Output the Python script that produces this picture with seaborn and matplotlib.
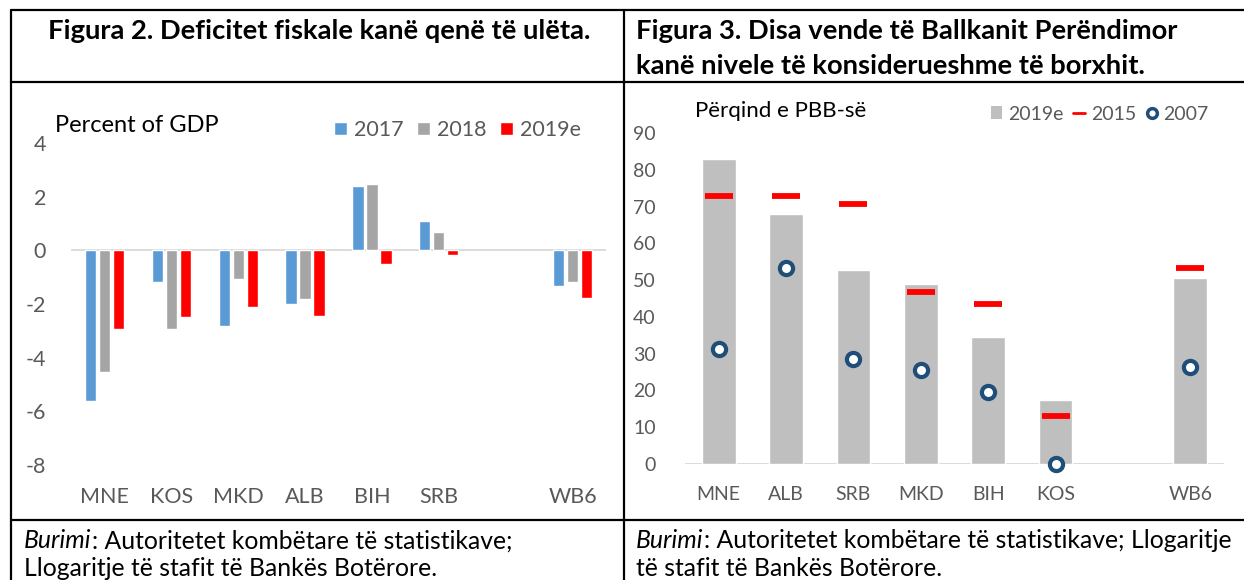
import matplotlib
matplotlib.use("Agg")
import matplotlib.pyplot as plt
from matplotlib.lines import Line2D
from matplotlib.patches import Patch
import seaborn as sns
import pandas as pd

# ---------------- data ----------------
left_countries = ["MNE", "KOS", "MKD", "ALB", "BIH", "SRB", "WB6"]
left_order = ["MNE", "KOS", "MKD", "ALB", "BIH", "SRB", " ", "WB6"]
years = ["2017", "2018", "2019e"]
def_2017 = [-5.6, -1.18, -2.82, -2.0, 2.39, 1.09, -1.33]
def_2018 = [-4.55, -2.92, -1.05, -1.8, 2.49, 0.67, -1.18]
def_2019 = [-2.95, -2.48, -2.1, -2.43, -0.52, -0.17, -1.77]

right_countries = ["MNE", "ALB", "SRB", "MKD", "BIH", "KOS", "WB6"]
right_order = ["MNE", "ALB", "SRB", "MKD", "BIH", "KOS", " ", "WB6"]
debt_2019 = [83.0, 68.0, 52.6, 48.8, 34.5, 17.3, 50.5]
debt_2015 = [72.8, 72.8, 70.6, 46.8, 43.5, 12.9, 53.3]
debt_2007 = [31.2, 53.2, 28.4, 25.6, 19.4, 0.0, 26.4]

left_yticks = [-8, -6, -4, -2, 0, 2, 4]
right_yticks = [0, 10, 20, 30, 40, 50, 60, 70, 80, 90]

title_left = "Figura 2. Deficitet fiskale kanë qenë të ulëta."
title_right_1 = "Figura 3. Disa vende të Ballkanit Perëndimor"
title_right_2 = "kanë nivele të konsiderueshme të borxhit."
src_left_1 = "Autoritetet kombëtare të statistikave;"
src_left_2 = "Llogaritje të stafit të Bankës Botërore."
src_right_1 = "Autoritetet kombëtare të statistikave; Llogaritje"
src_right_2 = "të stafit të Bankës Botërore."

# ---------------- style ----------------
sns.set_style("white")
FONT = "Lato"
plt.rcParams["font.family"] = [FONT, "DejaVu Sans"]
GRAY_TXT = "#595959"

W, H = 1244, 580
fig = plt.figure(figsize=(W / 100, H / 100), dpi=100)

def rect(x0, y0, x1, y1):
    return [x0 / W, 1 - y1 / H, (x1 - x0) / W, (y1 - y0) / H]

def fx(x):
    return x / W

def fy(y):
    return 1 - y / H

# ---------------- table frame ----------------
frame = fig.add_axes([0, 0, 1, 1])
frame.set_xlim(0, W)
frame.set_ylim(H, 0)
frame.axis("off")
lw = 1.6
for (x0, y0, x1, y1) in [(11, 10, 1244, 10), (11, 82, 1244, 82), (11, 520, 1244, 520),
                         (11, 10, 11, 580), (624, 10, 624, 580)]:
    frame.add_line(Line2D([x0, x1], [y0, y1], color="black", lw=lw))

TS = 19.7
fig.text(fx(319), fy(31), title_left, ha="center", va="center", fontsize=TS,
         fontweight="bold", color="black")
fig.text(fx(636), fy(31), title_right_1, ha="left", va="center", fontsize=TS,
         fontweight="bold", color="black")
fig.text(fx(636), fy(66), title_right_2, ha="left", va="center", fontsize=TS,
         fontweight="bold", color="black")

SS = 17.8
fig.canvas.draw()
for x, l1, l2 in [(24, src_left_1, src_left_2), (636, src_right_1, src_right_2)]:
    t = fig.text(fx(x), fy(541), "Burimi", ha="left", va="center", fontsize=SS,
                 style="italic", color="black")
    bb = t.get_window_extent(renderer=fig.canvas.get_renderer())
    fig.text(bb.x1 / W, fy(541), ": " + l1, ha="left", va="center", fontsize=SS,
             color="black")
    fig.text(fx(x), fy(568), l2, ha="left", va="center", fontsize=SS, color="black")

# ---------------- left chart ----------------
ax1 = fig.add_axes(rect(71, 143, 606, 465))
df_left = pd.DataFrame({
    "country": left_countries * 3,
    "year": sum([[y] * len(left_countries) for y in years], []),
    "value": def_2017 + def_2018 + def_2019,
})
sns.barplot(data=df_left, x="country", y="value", hue="year", order=left_order,
            hue_order=years, palette=["#5B9BD5", "#A5A5A5", "#FF0000"], saturation=1,
            width=0.63, gap=0.2, ax=ax1, legend=True)
ax1.set_ylim(-8, 4)
ax1.set_yticks(left_yticks)
ax1.set_yticklabels([str(v) for v in left_yticks])
ax1.set_xlim(-0.5, len(left_order) - 0.5)
ax1.set_xlabel("")
ax1.set_ylabel("")
for s in ax1.spines.values():
    s.set_visible(False)
ax1.axhline(0, color="#D9D9D9", lw=1.3, zorder=0.5)
ax1.tick_params(axis="y", length=0, pad=18, labelsize=15.5, labelcolor=GRAY_TXT)
ax1.tick_params(axis="x", length=0, pad=16, labelsize=15.5, labelcolor=GRAY_TXT)
sns.move_legend(ax1, "center right", bbox_to_anchor=(fx(600), fy(130)),
                bbox_transform=fig.transFigure, ncol=3, frameon=False, title=None,
                handlelength=0.6, handleheight=0.6, handletextpad=0.3,
                columnspacing=0.65, fontsize=15.5, labelcolor=GRAY_TXT)
fig.text(fx(55), fy(126), "Percent of GDP", ha="left", va="center", fontsize=17,
         color="black")

# ---------------- right chart ----------------
ax2 = fig.add_axes(rect(685, 133, 1224, 463.8))
df_right = pd.DataFrame({"country": right_countries, "d2019": debt_2019,
                         "d2015": debt_2015, "d2007": debt_2007})
sns.barplot(data=df_right, x="country", y="d2019", order=right_order, color="#BFBFBF",
            saturation=1, width=0.5, ax=ax2)
sns.pointplot(data=df_right, x="country", y="d2015", order=right_order, color="#FF0000",
              linestyle="none", marker="_", markersize=20, markeredgewidth=4.2,
              errorbar=None, ax=ax2)
sns.pointplot(data=df_right, x="country", y="d2007", order=right_order, color="#1F4E79",
              linestyle="none", marker="o", markersize=9.5, markeredgewidth=3.0,
              markerfacecolor="white", markeredgecolor="#1F4E79",
              errorbar=None, ax=ax2)
for ln in ax2.lines:
    ln.set_clip_on(False)
    ln.set_zorder(5)
ax2.set_ylim(0, 90)
ax2.set_yticks(right_yticks)
ax2.set_xlim(-0.5, len(right_order) - 0.5)
ax2.set_xlabel("")
ax2.set_ylabel("")
for s in ax2.spines.values():
    s.set_visible(False)
ax2.axhline(0, color="#D9D9D9", lw=1.3, zorder=0.5)
ax2.tick_params(axis="y", length=0, pad=21, labelsize=14, labelcolor=GRAY_TXT)
ax2.tick_params(axis="x", length=0, pad=16, labelsize=14, labelcolor=GRAY_TXT)
fig.text(fx(695), fy(111), "Përqind e PBB-së", ha="left", va="center", fontsize=16,
         color="black")
handles = [Patch(facecolor="#BFBFBF", edgecolor="none"),
           Line2D([], [], color="#FF0000", lw=2, marker=None),
           Line2D([], [], color="#1F4E79", lw=0, marker="o", markersize=7,
                  markeredgewidth=2.5, markerfacecolor="white")]
ax2.legend(handles, ["2019e", "2015", "2007"], loc="center right",
           bbox_to_anchor=(fx(1226), fy(114)), bbox_transform=fig.transFigure, ncol=3,
           frameon=False, handlelength=0.6, handleheight=0.6, handletextpad=0.3,
           columnspacing=0.5, fontsize=14, labelcolor=GRAY_TXT)

fig.savefig("out.png", dpi=100)
